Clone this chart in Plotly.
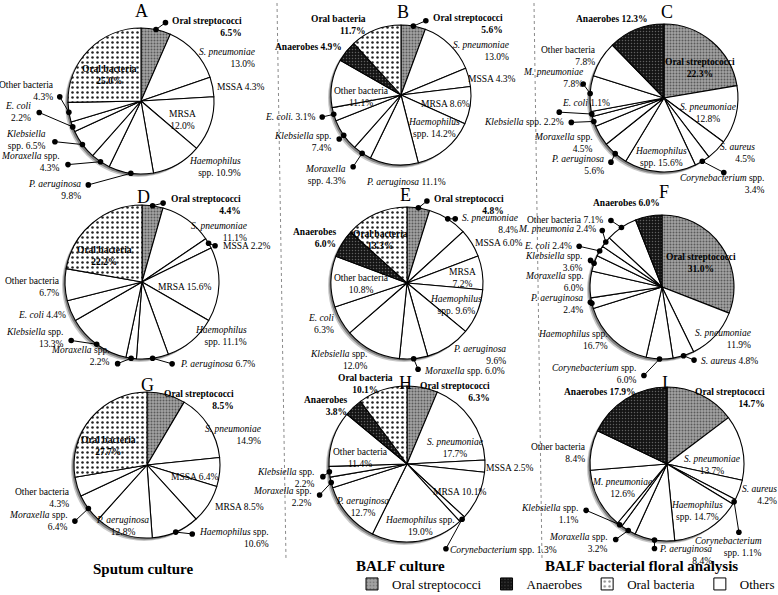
import math
import plotly.graph_objects as go

W, H = 778, 595
FONT = "Liberation Serif, Times New Roman, serif"

# ---------------- data ----------------
panels = ["A", "B", "C", "D", "E", "F", "G", "H", "I"]

labels_A = ["Oral streptococci", "S. pneumoniae", "MSSA", "MRSA", "Haemophilus spp.", "P. aeruginosa",
            "Moraxella spp.", "Klebsiella spp.", "E. coli", "Other bacteria", "Oral bacteria"]
values_A = [6.5, 13.0, 4.3, 12.0, 10.9, 9.8, 4.3, 6.5, 2.2, 4.3, 25.0]

labels_B = ["Oral streptococci", "S. pneumoniae", "MSSA", "MRSA", "Haemophilus spp.", "P. aeruginosa",
            "Moraxella spp.", "Klebsiella spp.", "E. coli.", "Other bacteria", "Anaerobes", "Oral bacteria"]
values_B = [5.6, 13.0, 4.3, 8.6, 14.2, 11.1, 4.3, 7.4, 3.1, 11.1, 4.9, 11.7]

labels_C = ["Oral streptococci", "S. pneumoniae", "S. aureus", "Corynebacterium spp.", "Haemophilus spp.",
            "P. aeruginosa", "Moraxella spp.", "Klebsiella spp.", "E. coli", "M. pneumoniae",
            "Other bacteria", "Anaerobes"]
values_C = [22.3, 12.8, 4.5, 3.4, 15.6, 5.6, 4.5, 2.2, 1.1, 7.8, 7.8, 12.3]

labels_D = ["Oral streptococci", "S. pneumoniae", "MSSA", "MRSA", "Haemophilus spp.", "P. aeruginosa",
            "Moraxella spp.", "Klebsiella spp.", "E. coli", "Other bacteria", "Oral bacteria"]
values_D = [4.4, 11.1, 2.2, 15.6, 11.1, 6.7, 2.2, 13.3, 4.4, 6.7, 22.2]

labels_E = ["Oral streptococci", "S. pneumoniae", "MSSA", "MRSA", "Haemophilus spp.", "P. aeruginosa",
            "Moraxella spp.", "Klebsiella spp.", "E. coli", "Other bacteria", "Anaerobes", "Oral bacteria"]
values_E = [4.8, 8.4, 6.0, 7.2, 9.6, 9.6, 6.0, 12.0, 6.3, 10.8, 6.0, 13.3]

labels_F = ["Oral streptococci", "S. pneumoniae", "S. aureus", "Corynebacterium spp.", "Haemophilus spp.",
            "P. aeruginosa", "Moraxella spp.", "Klebsiella spp.", "E. coli", "M. pneumonia",
            "Other bacteria", "Anaerobes"]
values_F = [31.0, 11.9, 4.8, 6.0, 16.7, 2.4, 6.0, 3.6, 2.4, 2.4, 7.1, 6.0]

labels_G = ["Oral streptococci", "S. pneumoniae", "MSSA", "MRSA", "Haemophilus spp.", "P. aeruginosa",
            "Moraxella spp.", "Other bacteria", "Oral bacteria"]
values_G = [8.5, 14.9, 6.4, 8.5, 10.6, 12.8, 6.4, 4.3, 27.7]

labels_H = ["Oral streptococci", "S. pneumoniae", "MSSA", "MRSA", "Corynebacterium spp.", "Haemophilus spp.",
            "P. aeruginosa", "Moraxella spp.", "Klebsiella spp.", "Other bacteria", "Anaerobes", "Oral bacteria"]
values_H = [6.3, 17.7, 2.5, 10.1, 1.3, 19.0, 12.7, 2.2, 2.2, 11.4, 3.8, 10.1]

labels_I = ["Oral streptococci", "S. pneumoniae", "S. aureus", "Corynebacterium spp.", "Haemophilus spp.",
            "P. aeruginosa", "Moraxella spp.", "Klebsiella spp.", "M. pneumoniae", "Other bacteria", "Anaerobes"]
values_I = [14.7, 13.7, 4.2, 1.1, 14.7, 8.4, 3.2, 1.1, 12.6, 8.4, 17.9]

column_titles = ["Sputum culture", "BALF culture", "BALF bacterial floral analysis"]
legend_names = ["Oral streptococci", "Anaerobes", "Oral bacteria", "Others"]

LABELS = dict(zip(panels, [labels_A, labels_B, labels_C, labels_D, labels_E, labels_F, labels_G, labels_H, labels_I]))
VALUES = dict(zip(panels, [values_A, values_B, values_C, values_D, values_E, values_F, values_G, values_H, values_I]))

# ---------------- layout / style config ----------------
# pie centre x, centre y, radius, panel-letter x, panel-letter y (pixels)
GEOM = {
    "A": (141, 101, 73, 141, 11), "B": (401, 95, 70, 403, 12), "C": (664, 98, 74, 667, 12),
    "D": (142, 282, 77, 143, 197), "E": (407, 283, 76, 405, 195), "F": (662, 287, 72, 664, 192),
    "G": (147, 465, 73, 147, 385), "H": (407, 464, 78, 405, 383), "I": (667, 464, 77, 665, 383),
}
TITLE_POS = [(143, 569), (400, 566), (641, 566)]

# label placement per slice:
# ('in', radial fraction, dx, dy, break) | ('out', dx, dy, xanchor, break)
# ('dot', dot dx, dot dy, label dx, label dy, xanchor, break)
SPECS = {
    "A": [('dot', 11, -8, 3, 5, 'left', 1), ('out', 2, 6, 'left', 1), ('out', 2, 0, 'left', 0),
          ('in', 0.6, 0, 5, 1), ('out', 10, 3, 'left', 2), ('dot', -44, 12, -4, 5, 'right', 1),
          ('dot', -34, 3, -4, -3, 'right', 1), ('dot', -29, -3, -5, -2, 'right', 2),
          ('dot', -35, -15, -5, 0, 'right', 1), ('dot', -10, -17, -3, -4, 'right', 1),
          ('in', 0.55, -3, 2, 1)],
    "B": [('dot', 14, -6, 4, 4, 'left', 1), ('out', 1, 6, 'left', 1), ('out', -3, 2, 'left', 0),
          ('in', 0.65, 0, 2, 0), ('in', 0.65, 4, -2, 2), ('out', 12, 17, 'center', 0),
          ('dot', -10, 15, -4, 7, 'right', 2), ('dot', -6, 5, -4, 2, 'right', 1),
          ('dot', -13, 3, -4, 0, 'right', 0), ('in', 0.55, -2, 8, 1), ('out', -2, -4, 'right', 0),
          ('out', -8, -5, 'right', 1)],
    "C": [('in', 0.6, 7, 4, 1), ('in', 0.7, -6, 3, 1), ('out', 1, 3, 'left', 1),
          ('dot', 23, 12, 42, 11, 'right', 1), ('in', 0.75, 0, 4, 2), ('dot', -5, 10, -4, 1, 'right', 1),
          ('dot', -1, 1, -4, 6, 'right', 1), ('dot', -24, 1, -4, 0, 'right', 0),
          ('dot', -34, -2, 2, -9, 'left', 0), ('dot', -8, -11, 3, -4, 'right', 1),
          ('out', -3, -3, 'right', 1), ('out', -24, -10, 'center', 0)],
    "D": [('dot', 12, -3, 4, 2, 'left', 1), ('out', 2, 12, 'left', 1), ('dot', 8, 3, 4, 0, 'left', 0),
          ('in', 0.55, 0, 4, 0), ('out', 2, -5, 'left', 2), ('dot', 21, 6, 4, 0, 'left', 0),
          ('dot', -15, 6, -4, -8, 'right', 1), ('dot', -27, -4, -4, -2, 'right', 1),
          ('out', -3, 4, 'right', 0), ('out', -3, 2, 'right', 1), ('in', 0.55, -10, 6, 1)],
    "E": [('dot', 10, -8, 4, 5, 'left', 1), ('dot', 9, 0, 3, 5, 'left', 1), ('out', 1, 0, 'left', 0),
          ('in', 0.82, -6, 4, 1), ('in', 0.75, -4, 0, 2), ('out', 2, 8, 'left', 1),
          ('dot', 5, 12, 3, 0, 'left', 0), ('out', -2, 9, 'right', 1), ('out', -5, 3, 'right', 1),
          ('in', 0.6, 0, 2, 1), ('out', -4, -5, 'right', 1), ('in', 0.65, -6, 2, 1)],
    "F": [('in', 0.6, 3, 0, 1), ('out', -22, 3, 'left', 1), ('dot', 12, 5, 3, 0, 'left', 0),
          ('dot', -17, 18, -4, -3, 'right', 1), ('out', -3, 0, 'right', 1), ('dot', -3, -2, -4, 3, 'right', 1),
          ('out', -4, -2, 'right', 1), ('dot', -5, -4, -4, 3, 'right', 1), ('dot', -22, -5, -4, 0, 'right', 0),
          ('dot', -4, -13, -4, 0, 'right', 0), ('dot', -12, -8, -4, 0, 'right', 0),
          ('out', -22, -13, 'center', 0)],
    "G": [('out', -4, 5, 'left', 1), ('out', -5, 9, 'left', 1), ('in', 0.72, -4, 7, 0),
          ('out', 4, 3, 'left', 0), ('dot', 18, 2, 3, 4, 'left', 1), ('in', 0.85, -4, 2, 1),
          ('dot', -15, 14, -3, -2, 'right', 1), ('out', -5, 11, 'right', 1), ('in', 0.55, -8, 7, 1)],
    "H": [('out', -4, 4, 'left', 1), ('in', 0.7, 3, 15, 1), ('out', -1, 2, 'left', 0),
          ('in', 0.7, 3, 5, 0), ('dot', -17, 31, 3, 0, 'left', 0), ('in', 0.8, 4, 0, 1),
          ('in', 0.65, -6, 10, 1), ('dot', -13, 14, -4, 1, 'right', 1), ('dot', -8, 6, -4, 0, 'right', 1),
          ('in', 0.6, -2, 9, 1), ('out', -4, -1, 'right', 1), ('out', -17, -6, 'center', 1)],
    "I": [('out', -8, 3, 'left', 1), ('in', 0.6, 0, 11, 1), ('out', 1, 5, 'left', 1),
          ('dot', 5, 32, 25, 13, 'right', 2), ('in', 0.6, 5, 8, 2), ('dot', 0, 10, 3, 5, 'left', 1),
          ('dot', -14, 10, -4, 2, 'right', 1), ('dot', -35, -15, -4, 4, 'right', 1),
          ('in', 0.6, -4, 3, 1), ('out', -3, 3, 'right', 1), ('out', -26, -7, 'center', 0)],
}

CAT_STYLE = {
    "os": dict(color="#a3a3a3", shape=".", fg="#5a5a5a", size=3, sol=0.35),
    "an": dict(color="#141414", shape=".", fg="#606060", size=3, sol=0.2),
    "ob": dict(color="#ffffff", shape=".", fg="#222222", size=5, sol=0.2),
    "ot": dict(color="#ffffff", shape="", fg="#000000", size=8, sol=0.3),
}
BOLD = {"Oral streptococci", "Oral bacteria", "Anaerobes"}
PLAIN = {"MSSA", "MRSA", "Other bacteria"}
LABEL_SIZE = 9.5


def category(name):
    return {"Oral streptococci": "os", "Anaerobes": "an", "Oral bacteria": "ob"}.get(name, "ot")


def label_text(name, value, brk):
    pct = f"{value:.1f}%"
    if name in BOLD:
        nm = f"<b>{name}</b>"
        pct = f"<b>{pct}</b>"
    elif name in PLAIN:
        nm = name
    elif name.endswith(" spp."):
        nm = f"<i>{name[:-5]}</i> spp."
    else:
        nm = f"<i>{name}</i>"
    if brk == 0:
        return f"{nm} {pct}"
    if brk == 2 and name.endswith(" spp."):
        return f"<i>{name[:-5]}</i><br>spp. {pct}"
    return f"{nm}<br>{pct}"


fig = go.Figure()
annotations = []
shapes = []

for p in panels:
    cx, cy, r, lx, ly = GEOM[p]
    labs, vals = LABELS[p], VALUES[p]
    cats = [category(n) for n in labs]
    # shadow behind the pie
    for off, col in ((3.0, "#c8c8c8"), (1.8, "#808080")):
        shapes.append(dict(type="circle", xref="x", yref="y", layer="below",
                           x0=cx - r - off, x1=cx + r - off, y0=cy - r + off, y1=cy + r + off,
                           fillcolor=col, line=dict(width=0)))
    fig.add_trace(go.Pie(
        labels=labs, values=vals, sort=False, direction="clockwise", rotation=0,
        textinfo="none", hoverinfo="label+value", showlegend=False,
        domain=dict(x=[(cx - r) / W, (cx + r) / W], y=[1 - (cy + r) / H, 1 - (cy - r) / H]),
        marker=dict(
            colors=[CAT_STYLE[c]["color"] for c in cats],
            line=dict(color="black", width=1.1),
            pattern=dict(shape=[CAT_STYLE[c]["shape"] for c in cats],
                         fgcolor=[CAT_STYLE[c]["fg"] for c in cats],
                         bgcolor=[CAT_STYLE[c]["color"] for c in cats],
                         size=[CAT_STYLE[c]["size"] for c in cats],
                         solidity=[CAT_STYLE[c]["sol"] for c in cats]),
        ),
    ))
    annotations.append(dict(x=lx, y=ly, xref="x", yref="y", text=p, showarrow=False,
                            font=dict(family=FONT, size=18, color="black")))
    total = sum(vals)
    cum = 0.0
    for name, v, spec in zip(labs, vals, SPECS[p]):
        th = 2 * math.pi * (cum + v / 2) / total
        cum += v
        s, c = math.sin(th), math.cos(th)
        rx, ry = cx + r * s, cy - r * c
        kind = spec[0]
        if kind == "in":
            _, f, dx, dy, brk = spec
            tx, ty, xa, al = cx + f * r * s + dx, cy - f * r * c + dy, "center", "center"
        elif kind == "out":
            _, dx, dy, xa, brk = spec
            tx, ty = rx + dx, ry + dy
            al = "center" if xa == "center" else "right"
        else:
            _, ddx, ddy, ldx, ldy, xa, brk = spec
            annotations.append(dict(x=rx, y=ry, xref="x", yref="y", text="", showarrow=True,
                                    ax=ddx, ay=ddy, axref="pixel", ayref="pixel",
                                    arrowhead=6, startarrowhead=6, arrowside="end+start",
                                    arrowsize=1.4, startarrowsize=1.4, arrowwidth=1,
                                    arrowcolor="black", standoff=0, startstandoff=0))
            tx, ty = rx + ddx + ldx, ry + ddy + ldy
            al = "center" if xa == "center" else "right"
        annotations.append(dict(x=tx, y=ty, xref="x", yref="y", text=label_text(name, v, brk),
                                showarrow=False, xanchor=xa, yanchor="middle", align=al,
                                font=dict(family=FONT, size=LABEL_SIZE, color="black")))

for t, (tx, ty) in zip(column_titles, TITLE_POS):
    annotations.append(dict(x=tx, y=ty, xref="x", yref="y", text=f"<b>{t}</b>", showarrow=False,
                            font=dict(family=FONT, size=15, color="black")))

# column separators
for x_top, x_bot in ((277, 286), (534, 542)):
    shapes.append(dict(type="line", xref="x", yref="y", x0=x_top, x1=x_bot, y0=3, y1=560,
                       line=dict(color="#8a8a8a", width=1, dash="dot")))

# legend entries
for nm, cat in zip(legend_names, ["os", "an", "ob", "ot"]):
    st = CAT_STYLE[cat]
    fig.add_trace(go.Bar(x=[None], y=[None], name=nm, showlegend=True, hoverinfo="skip",
                         marker=dict(color=st["color"], line=dict(color="black", width=1),
                                     pattern=dict(shape=st["shape"], fgcolor=st["fg"],
                                                  bgcolor=st["color"], size=st["size"] + 1,
                                                  solidity=st["sol"]))))

fig.update_layout(
    width=W, height=H, autosize=False,
    margin=dict(l=0, r=0, t=0, b=0, autoexpand=False),
    paper_bgcolor="white", plot_bgcolor="rgba(0,0,0,0)",
    xaxis=dict(range=[0, W], visible=False, fixedrange=True),
    yaxis=dict(range=[H, 0], visible=False, fixedrange=True),
    annotations=annotations, shapes=shapes,
    showlegend=True,
    legend=dict(orientation="h", x=352 / W, y=1 - 584 / H, xanchor="left", yanchor="middle",
                font=dict(family=FONT, size=13, color="black"), bgcolor="rgba(0,0,0,0)",
                itemwidth=30, tracegroupgap=0),
)

fig.write_html(
    "out.html",
    config={"displayModeBar": False},
    post_script="document.body.style.margin='0px';document.body.style.padding='0px';"
                "document.documentElement.style.overflow='hidden';",
)
